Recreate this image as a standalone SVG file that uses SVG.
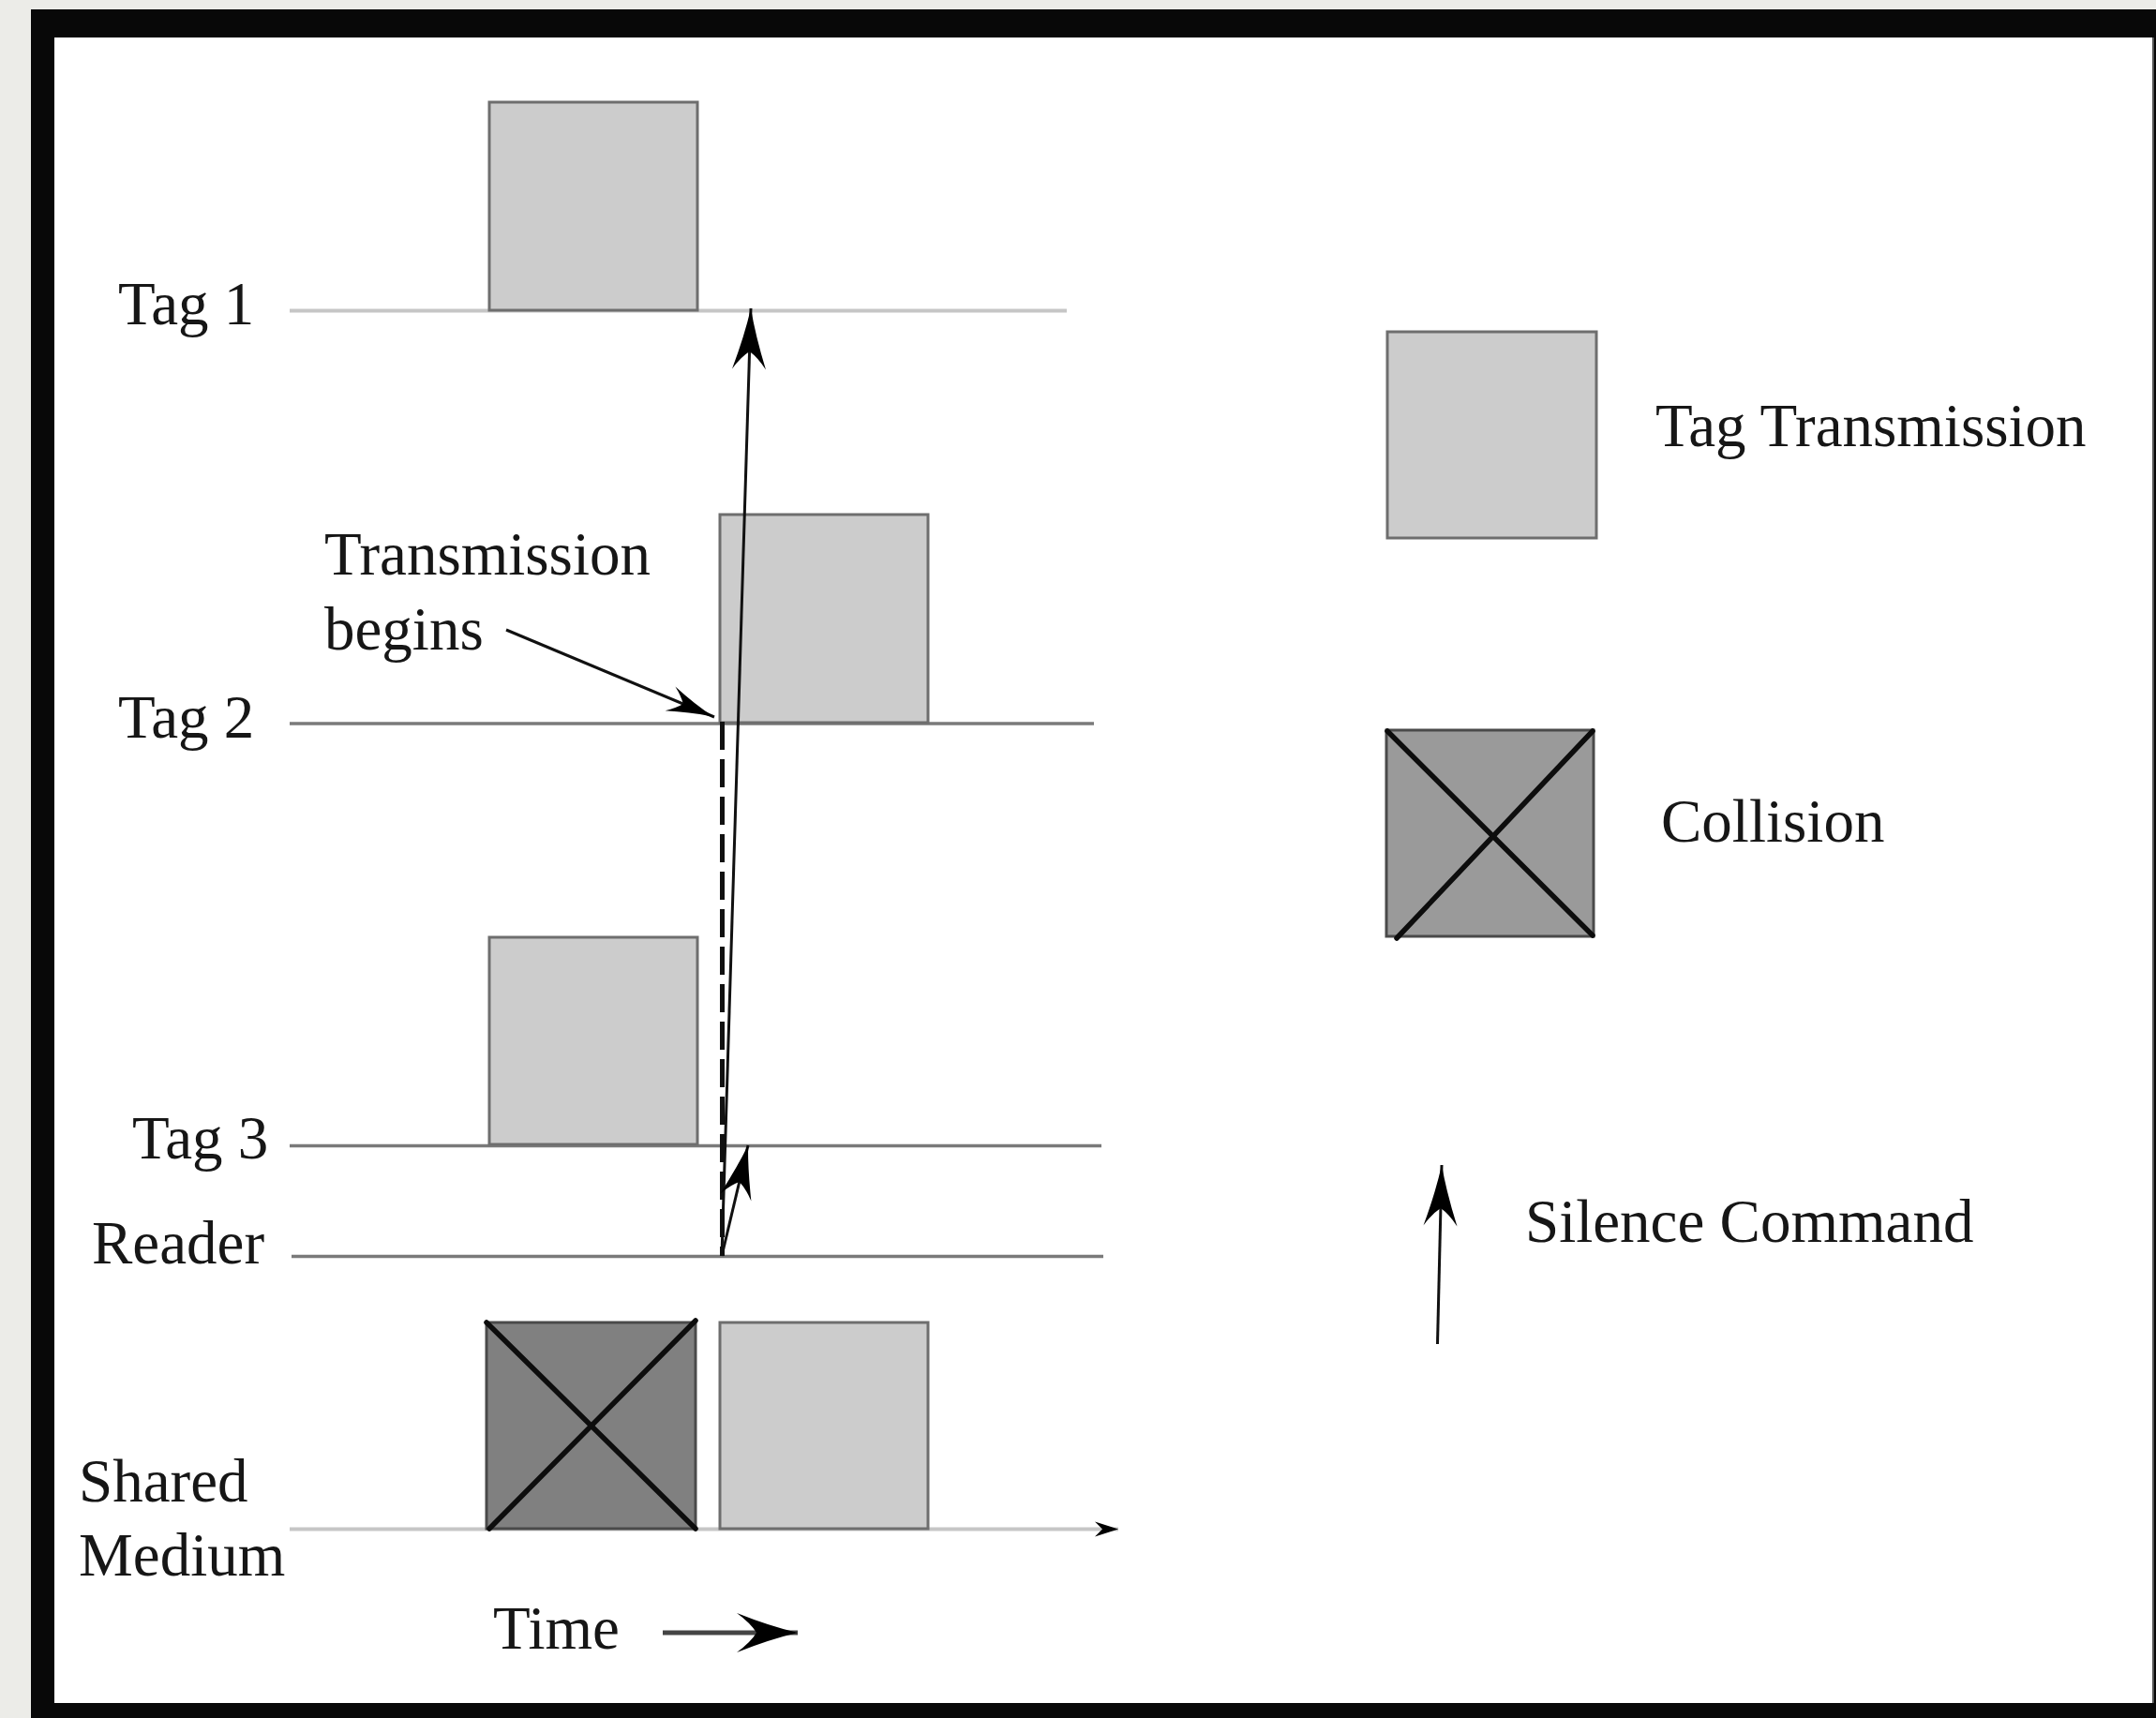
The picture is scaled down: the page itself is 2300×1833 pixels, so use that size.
<svg xmlns="http://www.w3.org/2000/svg" width="2300" height="1833" viewBox="0 0 2300 1833">
  <style>
    .lbl { font-family: "Liberation Serif", "Times New Roman", serif; font-size: 65px; fill: #161616; }
    .tx { fill: #cccccc; stroke: #6e6e6e; stroke-width: 3; }
    .col { stroke: #4a4a4a; stroke-width: 3; }
    .xline { stroke: #0d0d0d; stroke-width: 5.5; stroke-linecap: round; }
    .lane-light { stroke: #c6c6c6; stroke-width: 4; }
    .lane { stroke: #7a7a7a; stroke-width: 3.5; }
    .cmd { stroke: #111; stroke-width: 3; fill: none; }
  </style>
  <defs>
    <marker id="head-lg" markerUnits="userSpaceOnUse" markerWidth="140" markerHeight="60" refX="0" refY="0" orient="auto" overflow="visible">
      <path d="M0,0 Q-30,-6 -65,-18 Q-52,-9 -46,0 Q-52,9 -65,18 Q-30,6 0,0 Z" fill="#000"/>
    </marker>
    <marker id="head-md" markerUnits="userSpaceOnUse" markerWidth="140" markerHeight="60" refX="0" refY="0" orient="auto" overflow="visible">
      <path d="M0,0 Q-26,-6 -57,-17 Q-45,-8 -40,0 Q-45,8 -57,17 Q-26,6 0,0 Z" fill="#000"/>
    </marker>
    <marker id="head-sm" markerUnits="userSpaceOnUse" markerWidth="120" markerHeight="40" refX="0" refY="0" orient="auto" overflow="visible">
      <path d="M0,0 Q-23,-4 -51,-14 Q-41,-7 -36,0 Q-41,7 -51,14 Q-23,4 0,0 Z" fill="#000"/>
    </marker>
    <marker id="head-time" markerUnits="userSpaceOnUse" markerWidth="140" markerHeight="60" refX="0" refY="0" orient="auto" overflow="visible">
      <path d="M0,0 Q-30,-7 -65,-21 Q-50,-10 -44,0 Q-50,10 -65,21 Q-30,7 0,0 Z" fill="#000"/>
    </marker>
    <marker id="head-axis" markerUnits="userSpaceOnUse" markerWidth="40" markerHeight="20" refX="0" refY="0" orient="auto" overflow="visible">
      <path d="M0,0 L-25,-8 L-17,0 L-25,8 Z" fill="#000"/>
    </marker>
  </defs>

  <!-- backdrop and black frame -->
  <g id="frame">
    <rect x="0" y="0" width="2300" height="1833" fill="#ecece8"/>
    <rect x="33" y="10" width="2267" height="1823" fill="#080808"/>
    <rect x="58" y="40" width="2238" height="1777" fill="#ffffff"/>
    <line x1="2297" y1="40" x2="2297" y2="1817" stroke="#555" stroke-width="2"/>
  </g>

  <!-- time lanes -->
  <g id="lane-tag1">
    <line class="lane-light" x1="309" y1="331.5" x2="1138" y2="331.5"/>
    <text class="lbl" x="126" y="346">Tag 1</text>
  </g>
  <g id="lane-tag2">
    <line class="lane" x1="309" y1="772" x2="1167" y2="772"/>
    <text class="lbl" x="126" y="787">Tag 2</text>
  </g>
  <g id="lane-tag3">
    <line class="lane" x1="309" y1="1222.5" x2="1175" y2="1222.5"/>
    <text class="lbl" x="141" y="1236">Tag 3</text>
  </g>
  <g id="lane-reader">
    <line class="lane" x1="311" y1="1340.5" x2="1177" y2="1340.5"/>
    <text class="lbl" x="98" y="1348">Reader</text>
  </g>
  <g id="lane-medium">
    <line class="lane-light" x1="309" y1="1631.5" x2="1193" y2="1631.5" marker-end="url(#head-axis)"/>
    <text class="lbl" x="84" y="1602">Shared</text>
    <text class="lbl" x="84" y="1681">Medium</text>
  </g>

  <!-- transmissions -->
  <g id="tx-tag1">
    <rect class="tx" x="522" y="109" width="222" height="222"/>
  </g>
  <g id="tx-tag2">
    <rect class="tx" x="768" y="549" width="222" height="222"/>
  </g>
  <g id="tx-tag3">
    <rect class="tx" x="522" y="1000" width="222" height="221"/>
  </g>
  <g id="medium-collision">
    <rect class="col" x="519" y="1411" width="223" height="220" fill="#808080"/>
    <line class="xline" x1="519" y1="1411" x2="742" y2="1631"/>
    <line class="xline" x1="742" y1="1409" x2="522" y2="1631"/>
  </g>
  <g id="medium-tx">
    <rect class="tx" x="768" y="1411" width="222" height="220"/>
  </g>

  <!-- annotation -->
  <g id="note-begins">
    <text class="lbl" x="346" y="613">Transmission</text>
    <text class="lbl" x="346" y="693">begins</text>
  </g>
  <g id="time-axis">
    <text class="lbl" x="526" y="1759">Time</text>
    <line x1="707" y1="1742" x2="851" y2="1742" stroke="#444" stroke-width="5" marker-end="url(#head-time)"/>
  </g>

  <!-- legend -->
  <g id="legend-tx">
    <rect class="tx" x="1480" y="354" width="223" height="220"/>
    <text class="lbl" x="1766" y="476">Tag Transmission</text>
  </g>
  <g id="legend-collision">
    <rect class="col" x="1479" y="779" width="221" height="220" fill="#9a9a9a"/>
    <line class="xline" x1="1480" y1="780" x2="1699" y2="998"/>
    <line class="xline" x1="1699" y1="780" x2="1490" y2="1001"/>
    <text class="lbl" x="1772" y="898">Collision</text>
  </g>
  <g id="legend-silence">
    <line class="cmd" x1="1533.5" y1="1434" x2="1538" y2="1243" stroke-width="3.5" marker-end="url(#head-lg)"/>
    <text class="lbl" x="1627" y="1325">Silence Command</text>
  </g>

  <!-- connectors -->
  <g id="connectors">
    <line x1="770.5" y1="770" x2="770.5" y2="1340" stroke="#111" stroke-width="5" stroke-dasharray="30 10"/>
    <line class="cmd" x1="770" y1="1340" x2="801" y2="329" marker-end="url(#head-lg)"/>
    <line class="cmd" x1="770" y1="1340" x2="798" y2="1222" marker-end="url(#head-md)"/>
    <line class="cmd" x1="540" y1="672" x2="762" y2="765" marker-end="url(#head-sm)"/>
  </g>
</svg>
